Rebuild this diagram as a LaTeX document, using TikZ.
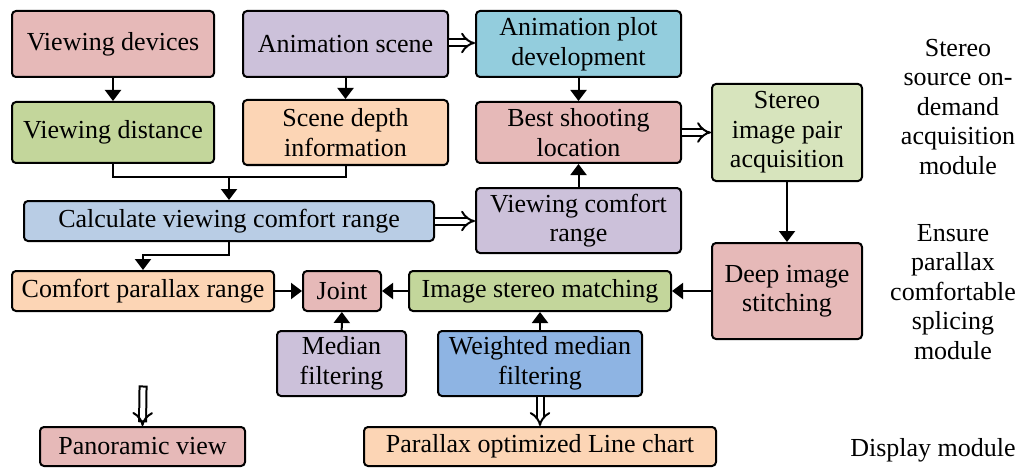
\documentclass[tikz,border=0pt]{standalone}
\usepackage{fontspec}
\setmainfont{Liberation Serif}
\usetikzlibrary{arrows.meta}

% box colours
\definecolor{boxpink}{HTML}{E6B9B8}
\definecolor{boxgreen}{HTML}{C3D69B}
\definecolor{boxlgreen}{HTML}{D7E4BD}
\definecolor{boxlilac}{HTML}{CCC1DA}
\definecolor{boxpeach}{HTML}{FCD5B5}
\definecolor{boxteal}{HTML}{93CDDD}
\definecolor{boxsky}{HTML}{B9CDE5}
\definecolor{boxblue}{HTML}{8EB4E3}

\begin{document}
\begin{tikzpicture}[x=1pt, y=-1pt, >={Triangle[width=16pt,length=11pt]},
    box/.style={draw, line width=2pt, rounded corners=4pt, align=center, inner sep=2pt,
      font=\fontsize{26}{29.5}\selectfont},
    flow/.style={->, line width=2pt},
    hollow/.style={-{Implies}, double, line width=2pt, double distance=5pt},
    modtext/.style={align=center, font=\fontsize{26}{29.5}\selectfont}]
    \useasboundingbox (0,0) rectangle (1020,468);

    % 第一行
    \node[box, fill=boxpink, minimum width=202pt, minimum height=66pt] (dev) at (113,44) {Viewing devices};
    \node[box, fill=boxlilac, minimum width=205pt, minimum height=66pt] (scene) at (345.5,44) {Animation scene};
    \node[box, fill=boxteal, minimum width=205pt, minimum height=66pt] (plot) at (578.5,44) {Animation plot\\development};

    % 第二行
    \node[box, fill=boxgreen, minimum width=202pt, minimum height=61pt] (dist) at (113,132.5) {Viewing distance};
    \node[box, fill=boxpeach, minimum width=205pt, minimum height=65pt] (depth) at (345.5,132.5) {Scene depth\\information};
    \node[box, fill=boxpink, minimum width=205pt, minimum height=61pt] (best) at (578.5,132.5) {Best shooting\\location};
    \node[box, fill=boxlgreen, minimum width=150pt, minimum height=97pt] (pair) at (787,132.5) {Stereo\\image pair\\acquisition};

    % 第三行
    \node[box, fill=boxsky, minimum width=410pt, minimum height=40pt] (calc) at (229,221) {Calculate viewing comfort range};
    \node[box, fill=boxlilac, minimum width=205pt, minimum height=65pt] (comf) at (578.5,220.5) {Viewing comfort\\range};

    % 第四行
    \node[box, fill=boxpeach, minimum width=262pt, minimum height=40pt] (cpr) at (143,291) {Comfort parallax range};
    \node[box, fill=boxpink, minimum width=78pt, minimum height=40pt] (joint) at (342,291) {Joint};
    \node[box, fill=boxgreen, minimum width=262pt, minimum height=40pt] (match) at (540,291) {Image stereo matching};
    \node[box, fill=boxpink, minimum width=150pt, minimum height=96pt] (stitch) at (787,291) {Deep image\\stitching};

    % 第五行
    \node[box, fill=boxlilac, minimum width=129pt, minimum height=65pt] (med) at (341.5,363.5) {Median\\filtering};
    \node[box, fill=boxblue, minimum width=204pt, minimum height=65pt] (wmed) at (540,363.5) {Weighted median\\filtering};

    % 显示
    \node[box, fill=boxpink, minimum width=205pt, minimum height=39pt] (pano) at (142.5,446.5) {Panoramic view};
    \node[box, fill=boxpeach, minimum width=352pt, minimum height=39pt] (chart) at (540,446.5) {Parallax optimized Line chart};

    % 模块说明
    \node[modtext] (modA) at (958,107) {Stereo\\source on-\\demand\\acquisition\\module};
    \node[modtext] (modB) at (953,292) {Ensure\\parallax\\comfortable\\splicing\\module};
    \node[modtext] (modC) at (933,450) {Display module};

    % 连线
    \draw[flow] (dev) -- (dist);
    \draw[flow] (scene) -- (depth);
    \draw[flow] (plot) -- (best);
    \draw[flow] (comf) -- (best);
    \draw[flow] (pair) -- (stitch);
    \draw[line width=2pt] (dist.south) |- (229,177) coordinate (merge) -| (depth.south);
    \draw[flow] (merge) -- (calc.north);
    \draw[flow] (calc.south) -- ++(0,13) -| (cpr.north);
    \draw[flow] (cpr) -- (joint);
    \draw[flow] (match) -- (joint);
    \draw[flow] (stitch.west |- match) -- (match);
    \draw[flow] (med) -- (joint);
    \draw[flow] (wmed) -- (match);

    % 空心箭头
    \draw[hollow] (scene.east |- 0,43) -- (plot.west |- 0,43);
    \draw[hollow] (best) -- (pair);
    \draw[hollow] (calc) -- (comf.west |- calc);
    \draw[hollow] (wmed) -- (chart);
    \coordinate (panotop) at (143,390);
    \draw[hollow, line cap=rect] (panotop) -- (pano.north);
  \end{tikzpicture}
\end{document}
